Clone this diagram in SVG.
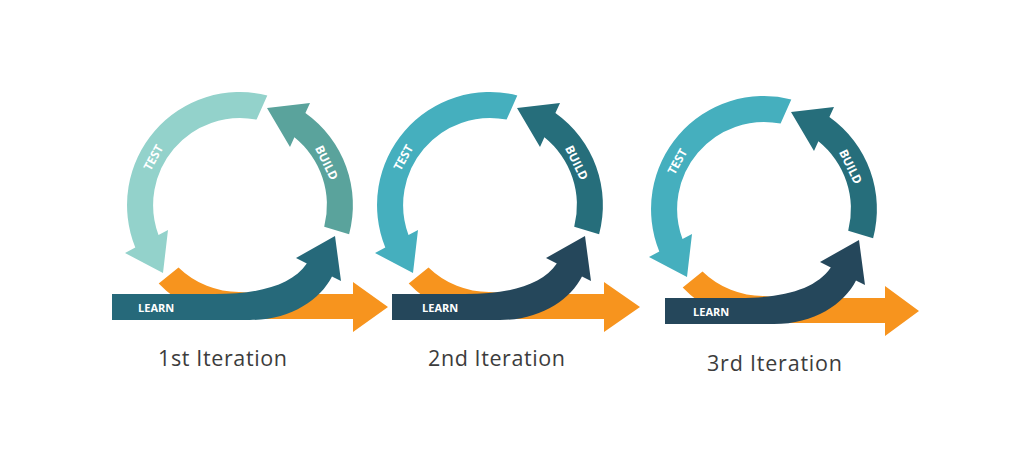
<svg xmlns="http://www.w3.org/2000/svg" width="1024" height="473" viewBox="0 0 1024 473">
  <defs>
    <style>
      .lbl { font-family: "Open Sans", "Liberation Sans", sans-serif; font-weight: 700; font-size: 11px; fill: #ffffff; }
      .arc { font-size: 12px; }
      .iter { font-family: "Open Sans", "Liberation Sans", sans-serif; font-size: 21.5px; fill: #3c3c3c; }
      .orange { fill: #f7941e; }
      .t1 { fill: #93d2cb; } .b1 { fill: #5aa39c; } .l1 { fill: #26697a; }
      .t2 { fill: #45afbe; } .b2 { fill: #266e7b; } .l2 { fill: #25475b; }
    </style>
    <path id="testArc" d="M 27.3 -109.6 A 113 113 0 0 0 -104.7 42.5 L -115 48 L -77 68 L -72 25 L -81.5 30.1 A 87 87 0 0 1 16.6 -85.4 Z"/>
    <path id="buildArc" d="M 109.1 29.2 A 113 113 0 0 0 65.4 -91.9 L 70 -102 L 27 -97 L 50 -58 L 54.4 -67.7 A 87 87 0 0 1 84.2 21.8 Z"/>
  </defs>
  <rect width="1024" height="473" fill="#ffffff"/>

  <!-- Iteration 1 -->
  <g id="iteration-1" transform="translate(240,205)">
    <g id="flow-1"><path class="orange" d="M -81.3 78.5 L -61.5 62.5 A 87 87 0 0 0 0 87 L 20 89 L 113 89 L 113 77 L 148 102 L 113 127 L 113 114 L 0 114 A 113.5 113.5 0 0 1 -81.3 78.5 Z"/></g>
    <g id="test-1"><use href="#testArc" class="t1"/><text class="lbl arc" text-anchor="middle" dy="4.3" transform="translate(-86.7,-47.5) rotate(-61)">TEST</text></g>
    <g id="build-1"><use href="#buildArc" class="b1"/><text class="lbl arc" text-anchor="middle" dy="4.3" transform="translate(86.7,-42.3) rotate(64)">BUILD</text></g>
    <g id="learn-1"><path class="l1" d="M -128 89 L -25 89 C 20 89 52 80 66.8 58.5 L 56 53 L 95 31 L 101 76 L 92 71.4 C 80 95 50 115 10 115 L -128 115 Z"/><text class="lbl" x="-102" y="106.5">LEARN</text></g>
  </g>

  <!-- Iteration 2 -->
  <g id="iteration-2" transform="translate(490,205)">
    <g id="flow-2"><path class="orange" d="M -81.3 78.5 L -61.5 62.5 A 87 87 0 0 0 0 87 L 20 89 L 114 89 L 114 77 L 150 102 L 114 127 L 114 114 L 0 114 A 113.5 113.5 0 0 1 -81.3 78.5 Z"/></g>
    <g id="test-2"><use href="#testArc" class="t2"/><text class="lbl arc" text-anchor="middle" dy="4.3" transform="translate(-86.7,-47.5) rotate(-61)">TEST</text></g>
    <g id="build-2"><use href="#buildArc" class="b2"/><text class="lbl arc" text-anchor="middle" dy="4.3" transform="translate(86.7,-42.3) rotate(64)">BUILD</text></g>
    <g id="learn-2"><path class="l2" d="M -98 89 L -25 89 C 20 89 52 80 66.8 58.5 L 56 53 L 95 31 L 101 76 L 92 71.4 C 80 95 50 115 10 115 L -98 115 Z"/><text class="lbl" x="-68" y="106.5">LEARN</text></g>
  </g>

  <!-- Iteration 3 -->
  <g id="iteration-3" transform="translate(764,209)">
    <g id="flow-3"><path class="orange" d="M -81.3 78.5 L -61.5 62.5 A 87 87 0 0 0 0 87 L 20 89 L 121 89 L 121 77 L 155 102 L 121 127 L 121 114 L 0 114 A 113.5 113.5 0 0 1 -81.3 78.5 Z"/></g>
    <g id="test-3"><use href="#testArc" class="t2"/><text class="lbl arc" text-anchor="middle" dy="4.3" transform="translate(-86.7,-47.5) rotate(-61)">TEST</text></g>
    <g id="build-3"><use href="#buildArc" class="b2"/><text class="lbl arc" text-anchor="middle" dy="4.3" transform="translate(86.7,-42.3) rotate(64)">BUILD</text></g>
    <g id="learn-3"><path class="l2" d="M -99 89 L -25 89 C 20 89 52 80 66.8 58.5 L 56 53 L 95 31 L 101 76 L 92 71.4 C 80 95 50 115 10 115 L -99 115 Z"/><text class="lbl" x="-71" y="106.5">LEARN</text></g>
  </g>

  <g id="connectors"></g>

  <g id="labels">
    <text class="iter" x="158" y="366" textLength="129" lengthAdjust="spacing">1st Iteration</text>
    <text class="iter" x="428" y="366" textLength="137" lengthAdjust="spacing">2nd Iteration</text>
    <text class="iter" x="707" y="371" textLength="135" lengthAdjust="spacing">3rd Iteration</text>
  </g>
</svg>
